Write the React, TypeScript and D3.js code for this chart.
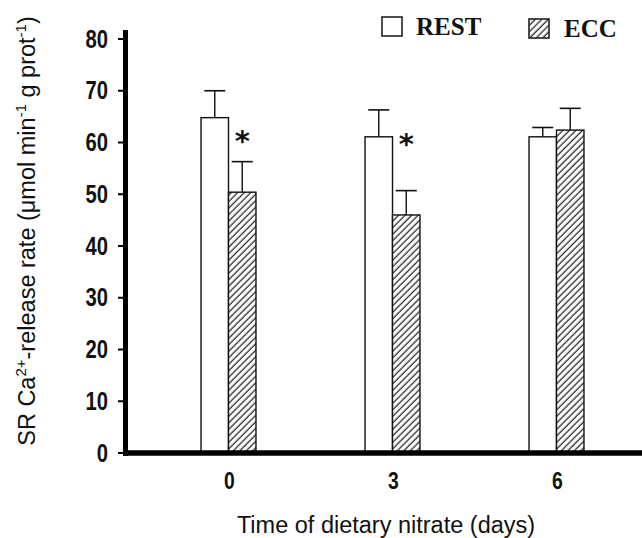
import React from "react";
import * as d3 from "d3";

const groups = ["0", "3", "6"];
const seriesNames = ["REST", "ECC"];
const restMeans = [64.8, 61.1, 61.1];
const restErrTop = [70.0, 66.3, 62.9];
const eccMeans = [50.4, 46.0, 62.4];
const eccErrTop = [56.3, 50.7, 66.6];
const starGroups = ["0", "3"];
const starValues = [61.2, 60.6];
const yTicks = [0, 10, 20, 30, 40, 50, 60, 70, 80];

const W = 642;
const H = 538;

export default function App() {
  const y = d3.scaleLinear().domain([0, 80]).range([453, 39]);
  const x0 = d3
    .scaleBand<string>()
    .domain(groups)
    .range([146.5, 638.5])
    .paddingInner(0.665)
    .paddingOuter(0.3325);
  const x1 = d3
    .scaleBand<string>()
    .domain(seriesNames)
    .range([0, x0.bandwidth()]);

  const data = groups.map((g, i) => ({
    g,
    bars: [
      { s: "REST", v: restMeans[i], e: restErrTop[i] },
      { s: "ECC", v: eccMeans[i], e: eccErrTop[i] },
    ],
  }));

  const capW = 21;
  const numFont = "'Liberation Sans', Arial, sans-serif";

  return (
    <svg
      width={W}
      height={H}
      style={{ position: "absolute", left: 0, top: 0, background: "#fff" }}
    >
      <defs>
        <pattern
          id="hatch"
          patternUnits="userSpaceOnUse"
          width={4.6}
          height={4.6}
          patternTransform="rotate(45)"
        >
          <rect width={4.6} height={4.6} fill="#fff" />
          <line x1={1.2} y1={0} x2={1.2} y2={4.6} stroke="#2a2a2a" strokeWidth={1.3} />
        </pattern>
      </defs>
      <rect width={W} height={H} fill="#fff" />

      {/* bars */}
      {data.map((d) => (
        <g key={d.g} transform={`translate(${x0(d.g)},0)`}>
          {d.bars.map((b) => {
            const bx = x1(b.s)!;
            const bw = x1.bandwidth();
            const cx = bx + bw / 2;
            return (
              <g key={b.s}>
                <line x1={cx} x2={cx} y1={y(b.v)} y2={y(b.e)} stroke="#111" strokeWidth={1.4} />
                <line
                  x1={cx - capW / 2}
                  x2={cx + capW / 2}
                  y1={y(b.e)}
                  y2={y(b.e)}
                  stroke="#111"
                  strokeWidth={1.6}
                />
                <rect
                  x={bx}
                  y={y(b.v)}
                  width={bw}
                  height={y(0) - y(b.v)}
                  fill={b.s === "REST" ? "#fff" : "url(#hatch)"}
                  stroke="#111"
                  strokeWidth={1.4}
                />
              </g>
            );
          })}
        </g>
      ))}

      {/* significance stars */}
      {starGroups.map((g, i) => (
        <text
          key={g}
          x={x0(g)! + x1("ECC")! + x1.bandwidth() / 2}
          y={y(starValues[i])}
          textAnchor="middle"
          fontFamily="'DejaVu Sans', sans-serif"
          fontWeight="bold"
          fontSize={29}
          dy={15}
          fill="#111"
        >
          *
        </text>
      ))}

      {/* y axis */}
      <line x1={125.5} x2={125.5} y1={30} y2={456} stroke="#000" strokeWidth={5} />
      {yTicks.map((t) => (
        <g key={t}>
          <line x1={118} x2={125} y1={y(t)} y2={y(t)} stroke="#000" strokeWidth={2} />
          <text
            transform={`translate(108,${y(t) + 8.5}) scale(0.86,1.1)`}
            textAnchor="end"
            fontFamily={numFont}
            fontWeight="bold"
            fontSize={23.5}
            fill="#111"
          >
            {t}
          </text>
        </g>
      ))}

      {/* x axis */}
      <line x1={123} x2={W} y1={y(0)} y2={y(0)} stroke="#000" strokeWidth={5.5} />
      {groups.map((g) => (
        <text
          key={g}
          transform={`translate(${x0(g)! + x0.bandwidth() / 2 + 1},489) scale(0.86,1.1)`}
          textAnchor="middle"
          fontFamily={numFont}
          fontWeight="bold"
          fontSize={22.5}
          fill="#111"
        >
          {g}
        </text>
      ))}

      {/* axis titles */}
      <text
        x={386}
        y={533}
        textAnchor="middle"
        fontFamily="'Liberation Sans', Arial, sans-serif"
        fontSize={23.5}
        fill="#111"
      >
        Time of dietary nitrate (days)
      </text>
      <text
        transform="translate(35,231) rotate(-90)"
        textAnchor="middle"
        fontFamily="'Liberation Sans', Arial, sans-serif"
        fontSize={23.5}
        fill="#111"
      >
        SR Ca
        <tspan fontSize={15} dy={-9}>2+</tspan>
        <tspan dy={9}>-release rate (μmol min</tspan>
        <tspan fontSize={15} dy={-9}>-1</tspan>
        <tspan dy={9}> g prot</tspan>
        <tspan fontSize={15} dy={-9}>-1</tspan>
        <tspan dy={9}>)</tspan>
      </text>

      {/* legend */}
      <rect x={382} y={17} width={20} height={19} fill="#fff" stroke="#222" strokeWidth={1.6} />
      <text
        x={416}
        y={35}
        fontFamily="'Liberation Serif', 'Times New Roman', serif"
        fontWeight="bold"
        fontSize={25}
        fill="#111"
      >
        REST
      </text>
      <rect x={529} y={19} width={20} height={19} fill="url(#hatch)" stroke="#222" strokeWidth={1.6} />
      <text
        x={564}
        y={37}
        fontFamily="'Liberation Serif', 'Times New Roman', serif"
        fontWeight="bold"
        fontSize={25}
        fill="#111"
      >
        ECC
      </text>
    </svg>
  );
}
